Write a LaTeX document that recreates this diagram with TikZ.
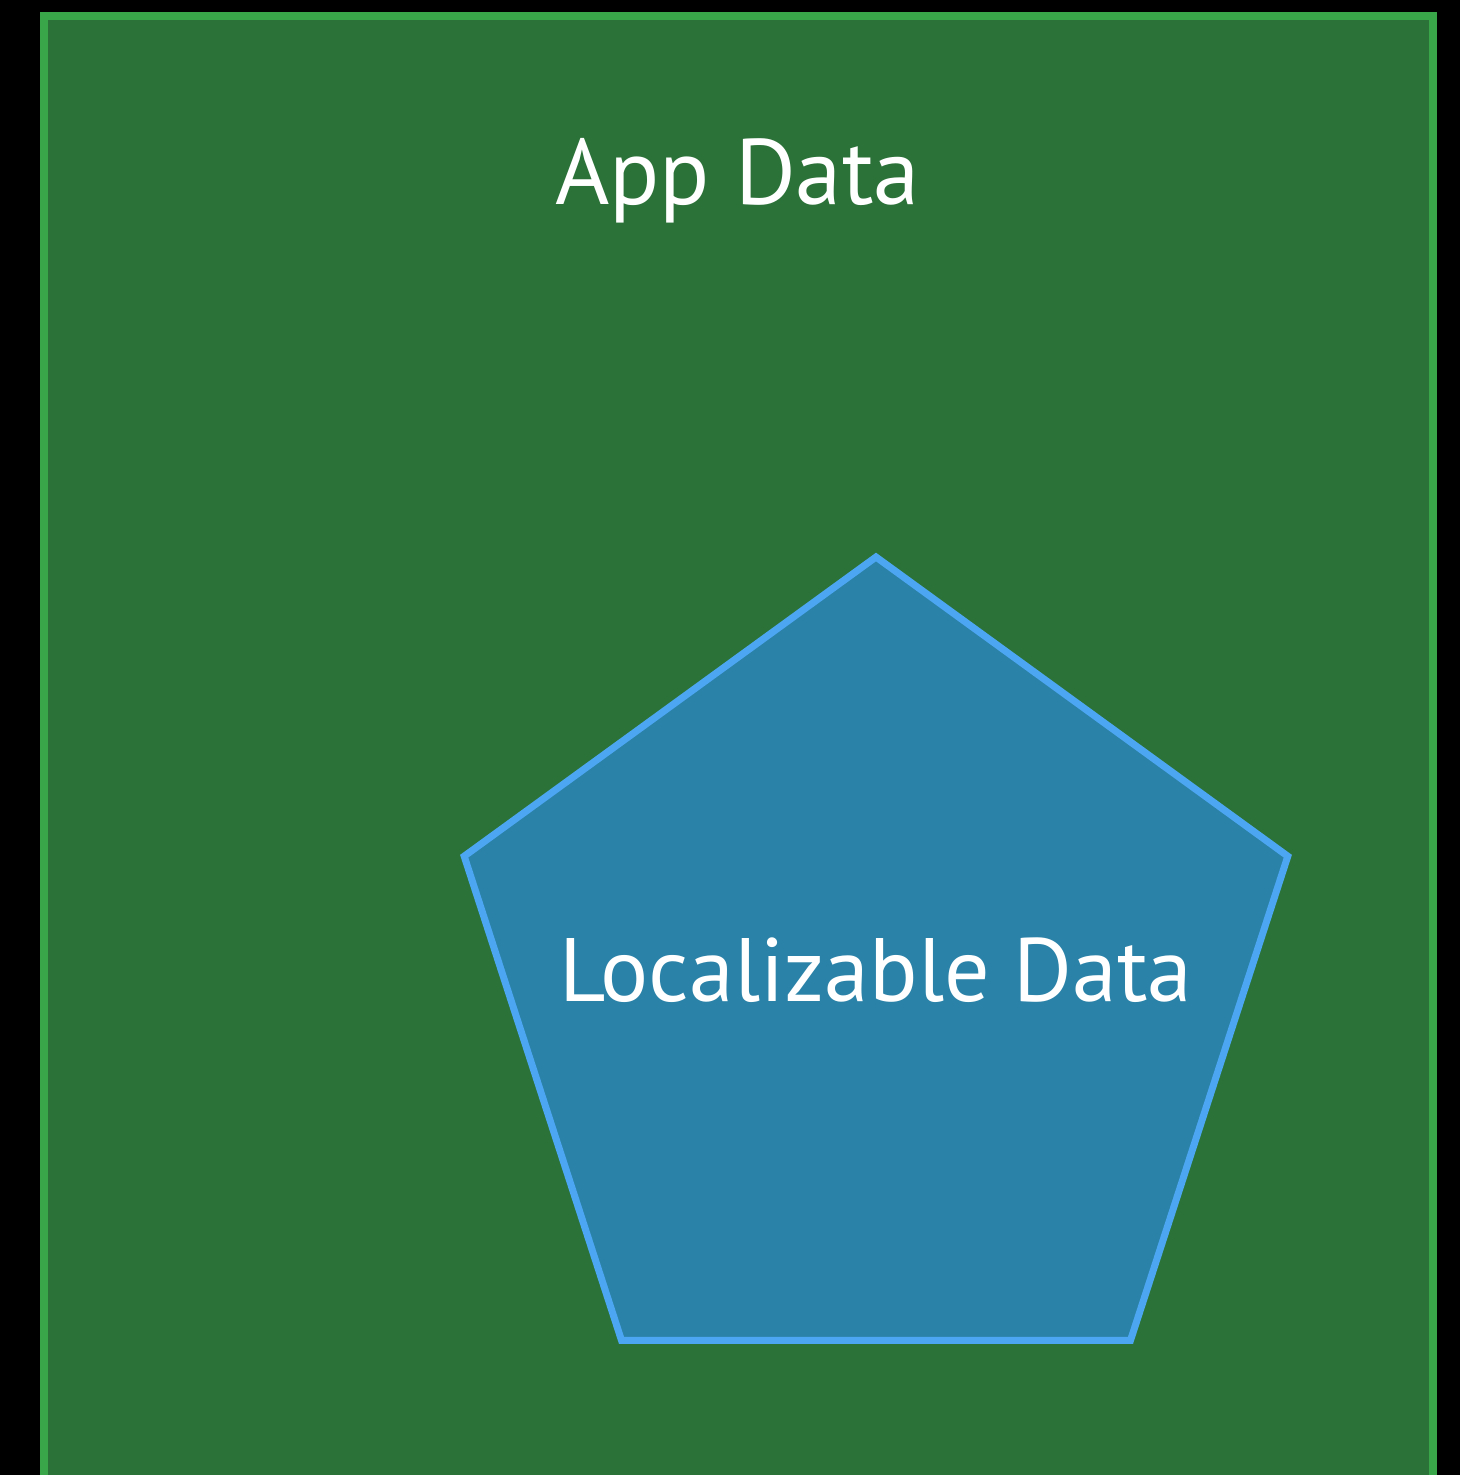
\documentclass[tikz,border=0pt]{standalone}
\usepackage{fontspec}
\setmainfont{PT Sans}
\usetikzlibrary{shapes.geometric}
\definecolor{bgblack}{HTML}{000000}
\definecolor{appfill}{HTML}{2B7238}
\definecolor{appline}{HTML}{3AA64A}
\definecolor{locfill}{HTML}{2A82A8}
\definecolor{locline}{HTML}{4DA6F2}
\tikzset{
  appbox/.style={fill=appfill, draw=appline, line width=8pt},
  locshape/.style={regular polygon, regular polygon sides=5, minimum size=866pt,
    inner sep=0pt, outer sep=0pt, fill=locfill, draw=locline, line width=7pt},
  bigtext/.style={text=white, inner sep=0pt, anchor=base, font=\fontsize{90}{100}\selectfont}
}
\begin{document}
\begin{tikzpicture}[x=1pt,y=-1pt]
\useasboundingbox (0,0) rectangle (1460,1475);
\fill[bgblack] (0,0) rectangle (1460,1475);
\begin{scope}
\clip (0,0) rectangle (1460,1475);
\draw[appbox] (44,16) rectangle (1433,1500);
\end{scope}
\node[bigtext, font=\fontsize{93}{100}\selectfont] (apptitle) at (737.5,204) {App Data};
\node[locshape] (loc) at (876,990) {};
\node[bigtext] (loctitle) at (876,1001) {Localizable Data};
\end{tikzpicture}
\end{document}
